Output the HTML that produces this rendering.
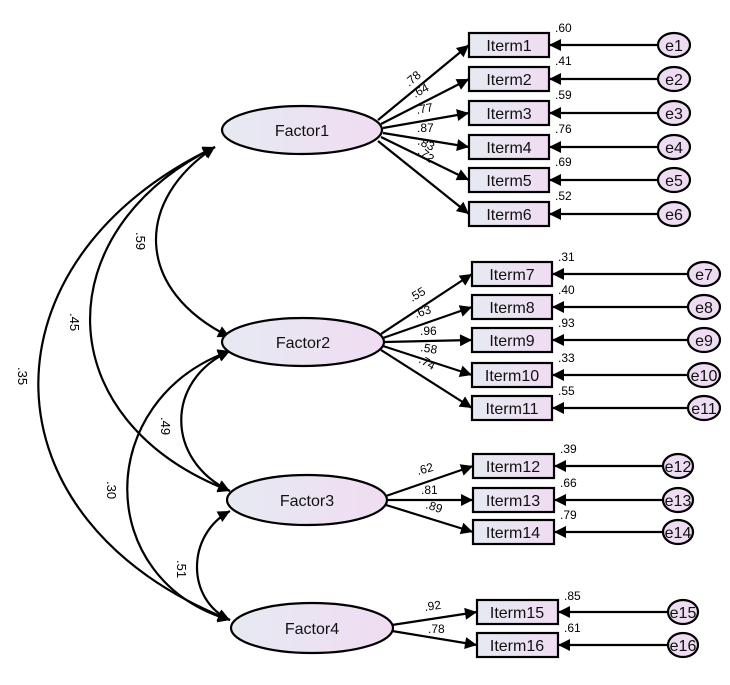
<!DOCTYPE html>
<html><head><meta charset="utf-8"><style>
html,body{margin:0;padding:0;background:#fff;}
svg text{font-family:"Liberation Sans",Arial,sans-serif;}
</style></head><body>
<svg width="730" height="680" viewBox="0 0 730 680" xmlns="http://www.w3.org/2000/svg">
<defs>
<marker id="a" viewBox="0 0 10 10" refX="10" refY="5" markerWidth="18" markerHeight="12" markerUnits="userSpaceOnUse" orient="auto-start-reverse"><path d="M0,0 L10,5 L0,10 z" fill="#000"/></marker>
<linearGradient id="g" x1="0" x2="1"><stop offset="0" stop-color="#e6eaf2"/><stop offset="1" stop-color="#f0dcf2"/></linearGradient>
</defs>
<g fill="none" stroke="#000" stroke-width="2.2">
<path d="M215,147 C134,200 134,290 230,337" marker-start="url(#a)" marker-end="url(#a)"/>
<path d="M215,147 C46,230 46,420 230,491" marker-start="url(#a)" marker-end="url(#a)"/>
<path d="M215,147 C-23,260 -23,520 230,620" marker-start="url(#a)" marker-end="url(#a)"/>
<path d="M230,351 C165,380 165,460 230,491" marker-start="url(#a)" marker-end="url(#a)"/>
<path d="M230,351 C93,400 93,580 230,620" marker-start="url(#a)" marker-end="url(#a)"/>
<path d="M230,511 C186,535 186,600 230,620" marker-start="url(#a)" marker-end="url(#a)"/>
</g>
<g font-size="13" fill="#000">
<text transform="translate(136,232) rotate(90)">.59</text>
<text transform="translate(70,313) rotate(90)">.45</text>
<text transform="translate(18,367) rotate(90)">.35</text>
<text transform="translate(161,417) rotate(90)">.49</text>
<text transform="translate(107,481) rotate(90)">.30</text>
<text transform="translate(177,560) rotate(90)">.51</text>
</g>
<g stroke="#000" stroke-width="2.2">
<line x1="378" y1="120" x2="469" y2="45" marker-end="url(#a)"/>
<line x1="381" y1="124" x2="469" y2="79" marker-end="url(#a)"/>
<line x1="383" y1="128" x2="469" y2="113" marker-end="url(#a)"/>
<line x1="383" y1="133" x2="469" y2="147" marker-end="url(#a)"/>
<line x1="381" y1="137" x2="469" y2="180" marker-end="url(#a)"/>
<line x1="378" y1="141" x2="469" y2="214" marker-end="url(#a)"/>
<line x1="381" y1="334" x2="472" y2="274" marker-end="url(#a)"/>
<line x1="383" y1="338" x2="472" y2="307" marker-end="url(#a)"/>
<line x1="385" y1="342" x2="472" y2="340" marker-end="url(#a)"/>
<line x1="383" y1="346" x2="472" y2="375" marker-end="url(#a)"/>
<line x1="381" y1="350" x2="472" y2="408" marker-end="url(#a)"/>
<line x1="386" y1="496" x2="473" y2="466" marker-end="url(#a)"/>
<line x1="388" y1="500" x2="473" y2="500" marker-end="url(#a)"/>
<line x1="386" y1="505" x2="473" y2="532" marker-end="url(#a)"/>
<line x1="392" y1="625" x2="477" y2="612" marker-end="url(#a)"/>
<line x1="392" y1="631" x2="477" y2="645" marker-end="url(#a)"/>
</g>
<g stroke="#000" stroke-width="2.2" fill="url(#g)">
<ellipse cx="302" cy="130" rx="80" ry="24"/>
<ellipse cx="303" cy="342" rx="81" ry="24"/>
<ellipse cx="307" cy="500" rx="80" ry="25"/>
<ellipse cx="312" cy="628" rx="81" ry="25"/>
</g>
<g font-size="16" text-anchor="middle" fill="#111">
<text x="302" y="136">Factor1</text><text x="303" y="348">Factor2</text>
<text x="307" y="506">Factor3</text><text x="312" y="634">Factor4</text>
</g>
<g font-size="12" fill="#000">
<text transform="translate(409,87) rotate(-40)">.78</text>
<text transform="translate(415,98) rotate(-28)">.64</text>
<text transform="translate(417,114) rotate(-10)">.77</text>
<text x="417" y="132">.87</text>
<text transform="translate(417,144) rotate(25)">.83</text>
<text transform="translate(417,153) rotate(38)">.72</text>
<text transform="translate(412,302) rotate(-30)">.55</text>
<text transform="translate(416,318) rotate(-18)">.63</text>
<text x="420" y="335">.96</text>
<text transform="translate(420,351) rotate(10)">.58</text>
<text transform="translate(418,362) rotate(30)">.74</text>
<text transform="translate(418,475) rotate(-15)">.62</text>
<text x="421" y="494">.81</text>
<text transform="translate(425,508) rotate(18)">.89</text>
<text transform="translate(425,611) rotate(-8)">.92</text>
<text x="428" y="633">.78</text>
</g>
<g stroke="#000" stroke-width="2.2" fill="url(#g)">
<rect x="469" y="33" width="80" height="24"/><rect x="469" y="67" width="80" height="24"/>
<rect x="469" y="101" width="80" height="24"/><rect x="469" y="135" width="80" height="24"/>
<rect x="469" y="168" width="80" height="24"/><rect x="469" y="202" width="80" height="24"/>
<rect x="472" y="262" width="80" height="24"/><rect x="472" y="295" width="80" height="24"/>
<rect x="472" y="328" width="80" height="24"/><rect x="472" y="363" width="80" height="24"/>
<rect x="472" y="396" width="80" height="24"/>
<rect x="473" y="454" width="81" height="24"/><rect x="473" y="488" width="81" height="24"/>
<rect x="473" y="520" width="81" height="24"/>
<rect x="477" y="600" width="81" height="24"/><rect x="477" y="633" width="81" height="24"/>
</g>
<g font-size="16" text-anchor="middle" fill="#111">
<text x="509" y="51">Iterm1</text><text x="509" y="85">Iterm2</text><text x="509" y="119">Iterm3</text>
<text x="509" y="153">Iterm4</text><text x="509" y="186">Iterm5</text><text x="509" y="220">Iterm6</text>
<text x="512" y="280">Iterm7</text><text x="512" y="313">Iterm8</text><text x="512" y="346">Iterm9</text>
<text x="512" y="381">Iterm10</text><text x="512" y="414">Iterm11</text>
<text x="513" y="472">Iterm12</text><text x="513" y="506">Iterm13</text><text x="513" y="538">Iterm14</text>
<text x="517" y="618">Iterm15</text><text x="517" y="651">Iterm16</text>
</g>
<g font-size="12" fill="#000">
<text x="555" y="32">.60</text><text x="555" y="65">.41</text><text x="555" y="99">.59</text>
<text x="555" y="133">.76</text><text x="555" y="166">.69</text><text x="555" y="200">.52</text>
<text x="558" y="261">.31</text><text x="558" y="294">.40</text><text x="558" y="327">.93</text>
<text x="558" y="362">.33</text><text x="558" y="395">.55</text>
<text x="560" y="453">.39</text><text x="560" y="487">.66</text><text x="560" y="519">.79</text>
<text x="564" y="600">.85</text><text x="564" y="632">.61</text>
</g>
<g stroke="#000" stroke-width="2.2">
<line x1="658" y1="45" x2="549" y2="45" marker-end="url(#a)"/>
<line x1="658" y1="79" x2="549" y2="79" marker-end="url(#a)"/>
<line x1="658" y1="113" x2="549" y2="113" marker-end="url(#a)"/>
<line x1="658" y1="147" x2="549" y2="147" marker-end="url(#a)"/>
<line x1="658" y1="180" x2="549" y2="180" marker-end="url(#a)"/>
<line x1="658" y1="214" x2="549" y2="214" marker-end="url(#a)"/>
<line x1="688" y1="274" x2="552" y2="274" marker-end="url(#a)"/>
<line x1="688" y1="307" x2="552" y2="307" marker-end="url(#a)"/>
<line x1="688" y1="340" x2="552" y2="340" marker-end="url(#a)"/>
<line x1="688" y1="375" x2="552" y2="375" marker-end="url(#a)"/>
<line x1="688" y1="408" x2="552" y2="408" marker-end="url(#a)"/>
<line x1="663" y1="466" x2="554" y2="466" marker-end="url(#a)"/>
<line x1="663" y1="500" x2="554" y2="500" marker-end="url(#a)"/>
<line x1="663" y1="532" x2="554" y2="532" marker-end="url(#a)"/>
<line x1="668" y1="612" x2="558" y2="612" marker-end="url(#a)"/>
<line x1="668" y1="645" x2="558" y2="645" marker-end="url(#a)"/>
</g>
<g stroke="#000" stroke-width="2.2" fill="#eedcf2">
<ellipse cx="674" cy="45" rx="16" ry="12"/><ellipse cx="674" cy="79" rx="16" ry="12"/>
<ellipse cx="674" cy="113" rx="16" ry="12"/><ellipse cx="674" cy="147" rx="16" ry="12"/>
<ellipse cx="674" cy="180" rx="16" ry="12"/><ellipse cx="674" cy="214" rx="16" ry="12"/>
<ellipse cx="704" cy="274" rx="16" ry="12"/><ellipse cx="704" cy="307" rx="16" ry="12"/>
<ellipse cx="704" cy="340" rx="16" ry="12"/><ellipse cx="704" cy="375" rx="16" ry="12"/>
<ellipse cx="704" cy="408" rx="16" ry="12"/>
<ellipse cx="678" cy="466" rx="15" ry="12"/><ellipse cx="678" cy="500" rx="15" ry="12"/>
<ellipse cx="678" cy="532" rx="15" ry="12"/>
<ellipse cx="683" cy="612" rx="15" ry="12"/><ellipse cx="683" cy="645" rx="15" ry="12"/>
</g>
<g font-size="16" text-anchor="middle" fill="#111">
<text x="674" y="51">e1</text><text x="674" y="85">e2</text><text x="674" y="119">e3</text>
<text x="674" y="153">e4</text><text x="674" y="186">e5</text><text x="674" y="220">e6</text>
<text x="704" y="280">e7</text><text x="704" y="313">e8</text><text x="704" y="346">e9</text>
<text x="704" y="381">e10</text><text x="704" y="414">e11</text>
<text x="678" y="472">e12</text><text x="678" y="506">e13</text><text x="678" y="538">e14</text>
<text x="683" y="618">e15</text><text x="683" y="651">e16</text>
</g>
</svg>
</body></html>
